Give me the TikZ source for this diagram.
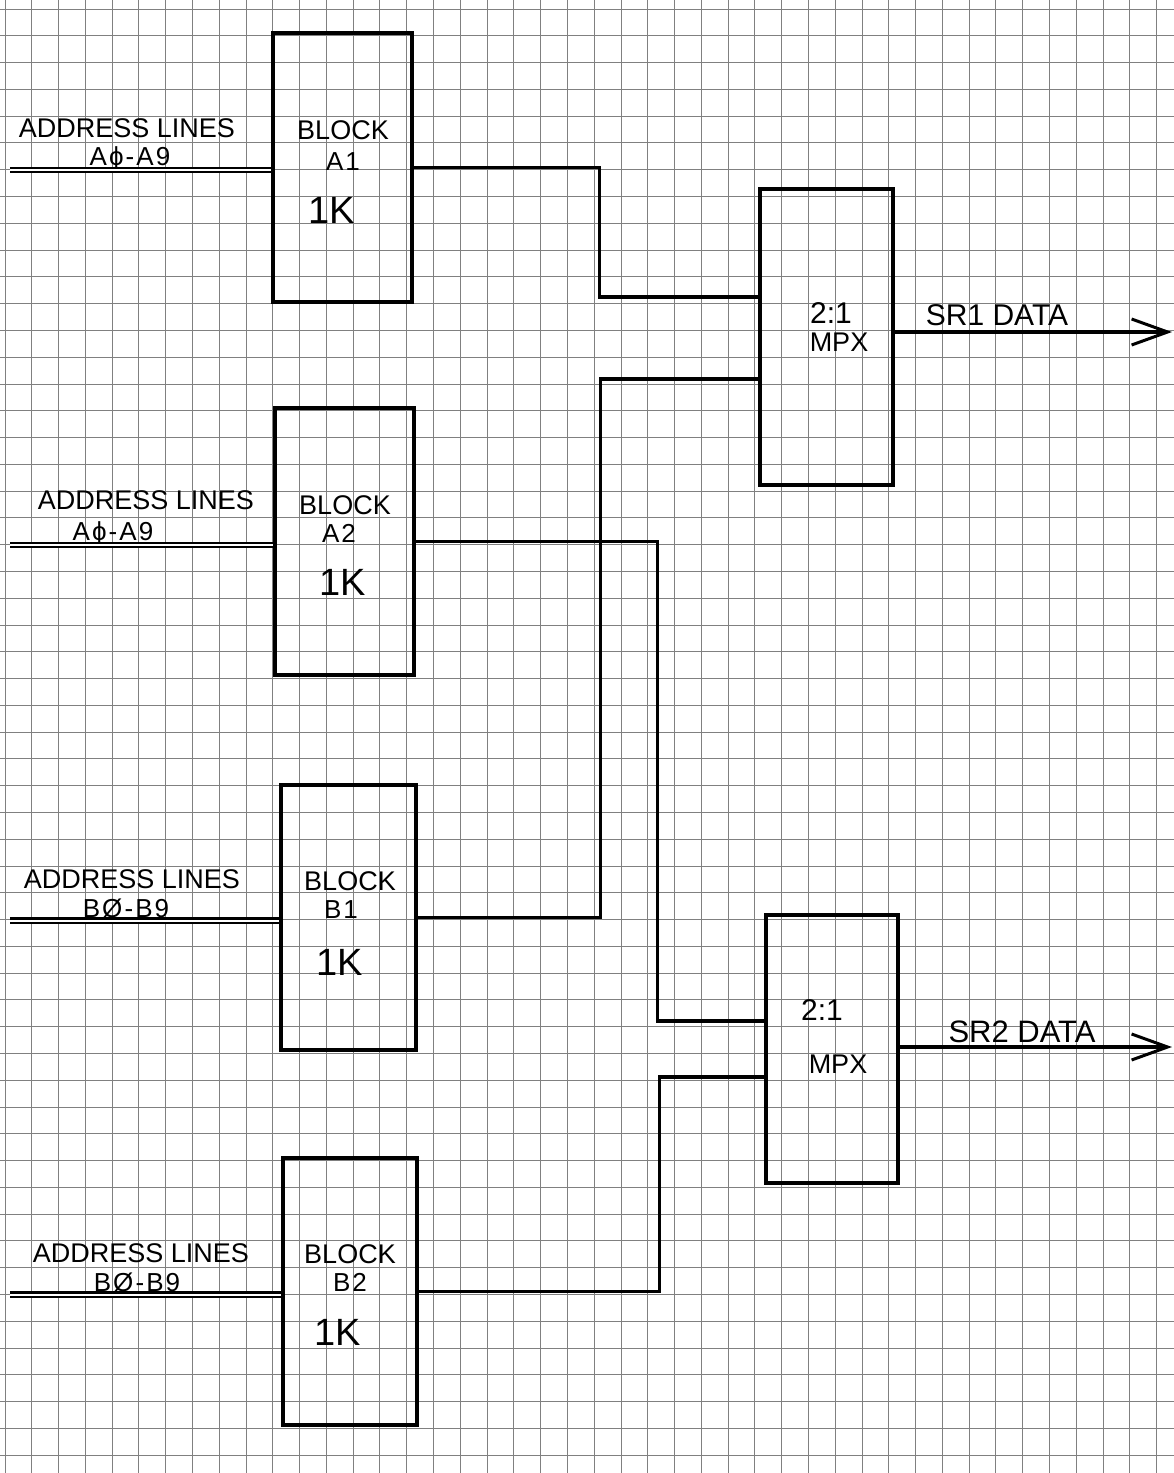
\documentclass[tikz,border=0pt]{standalone}
\usepackage{fontspec}
\setmainfont{Liberation Sans}
\usetikzlibrary{arrows.meta,calc}
\tikzset{
  gridline/.style={draw=black!50, line width=0.85pt},
  blk/.style={draw, line width=3.8pt, inner sep=0pt, rectangle},
  wire/.style={draw, line width=3.2pt},
  bus/.style={draw, line width=2.2pt, double, double distance=2pt},
  hand/.style={font=\fontsize{27}{27}\selectfont, inner sep=0pt, anchor=base},
  sub/.style={font=\fontsize{26}{26}\selectfont\addfontfeature{LetterSpace=8}, inner sep=0pt, anchor=base},
  big/.style={font=\fontsize{38}{38}\selectfont, inner sep=0pt, anchor=base},
  outarrow/.style={wire, -{Straight Barb[length=36pt,width=26pt,line width=3pt]}}
}
\begin{document}
\begin{tikzpicture}[x=1pt,y=-1pt]
\useasboundingbox (0,0) rectangle (1174,1473);
\fill[white] (0,0) rectangle (1174,1473);
% graph paper
\foreach \i in {0,...,43} \draw[gridline] ({5+26.78*\i},0) -- ({5+26.78*\i},1473);
\foreach \j in {0,...,54} \draw[gridline] (0,{9+26.78*\j}) -- (1174,{9+26.78*\j});

% memory blocks
\node[blk, minimum width=139pt, minimum height=269pt] (A1) at (342.5,167.5) {};
\node[blk, minimum width=139pt, minimum height=267pt] (A2) at (344.5,541.5) {};
\node[blk, minimum width=135pt, minimum height=265pt] (B1) at (348.5,917.5) {};
\node[blk, minimum width=134pt, minimum height=267pt] (B2) at (350,1291.5) {};
% multiplexers
\node[blk, minimum width=133pt, minimum height=296pt] (M1) at (826.5,337) {};
\node[blk, minimum width=132pt, minimum height=268pt] (M2) at (832,1049) {};

% block texts
\node[hand] (tA1a) at (343,139) {BLOCK};
\node[sub]  (tA1b) at (343,170) {A1};
\node[big]  (tA1c) at (332,223) {1K};
\node[hand] (tA2a) at (345,514) {BLOCK};
\node[sub]  (tA2b) at (339,542) {A2};
\node[big]  (tA2c) at (343,595) {1K};
\node[hand] (tB1a) at (350,890) {BLOCK};
\node[sub]  (tB1b) at (341,918) {B1};
\node[big]  (tB1c) at (340,975) {1K};
\node[hand] (tB2a) at (350,1263) {BLOCK};
\node[sub]  (tB2b) at (350,1291) {B2};
\node[big]  (tB2c) at (338,1345) {1K};
\node[hand, font=\fontsize{30}{30}\selectfont] (tM1a) at (831,323) {2:1};
\node[hand] (tM1b) at (839,351) {MPX};
\node[hand, font=\fontsize{30}{30}\selectfont] (tM2a) at (822,1020) {2:1};
\node[hand] (tM2b) at (838,1073) {MPX};

% address line labels
\node[hand] (l1a) at (127,137) {ADDRESS LINES};
\node[sub]  (l1b) at (130,165) {Aϕ-A9};
\node[hand] (l2a) at (146,509) {ADDRESS LINES};
\node[sub]  (l2b) at (113,540) {Aϕ-A9};
\node[hand] (l3a) at (132,888) {ADDRESS LINES};
\node[sub]  (l3b) at (126,917) {BØ-B9};
\node[hand] (l4a) at (141,1262) {ADDRESS LINES};
\node[sub]  (l4b) at (137,1291) {BØ-B9};

% address buses
\coordinate (iA1) at (10,170);
\coordinate (iA2) at (10,545);
\coordinate (iB1) at (10,920.5);
\coordinate (iB2) at (10,1294.5);
\draw[bus] (iA1) -- (iA1 -| A1.west);
\draw[bus] (iA2) -- (iA2 -| A2.west);
\draw[bus] (iB1) -- (iB1 -| B1.west);
\draw[bus] (iB2) -- (iB2 -| B2.west);

% multiplexer inputs
\coordinate (m1a) at ($(M1.west)+(0,-40)$);
\coordinate (m1b) at ($(M1.west)+(0,42)$);
\coordinate (m2a) at ($(M2.west)+(0,-28)$);
\coordinate (m2b) at ($(M2.west)+(0,28)$);
\draw[wire] (A1.east) -| ($(m1a)+(-159,0)$) -- (m1a);
\draw[wire] (B1.east) -| ($(m1b)+(-158,0)$) -- (m1b);
\draw[wire] (A2.east) -| ($(m2a)+(-107,0)$) -- (m2a);
\draw[wire] (B2.east) -| ($(m2b)+(-105,0)$) -- (m2b);

% outputs
\coordinate (o1) at (1172,332);
\coordinate (o2) at (1172,1047);
\draw[outarrow] (M1.east |- o1) -- (o1);
\draw[outarrow] (M2.east |- o2) -- (o2);
\node[hand, font=\fontsize{30}{30}\selectfont] (s1) at (997,325) {SR1 DATA};
\node[hand, font=\fontsize{31}{31}\selectfont] (s2) at (1022,1042) {SR2 DATA};
\end{tikzpicture}
\end{document}
